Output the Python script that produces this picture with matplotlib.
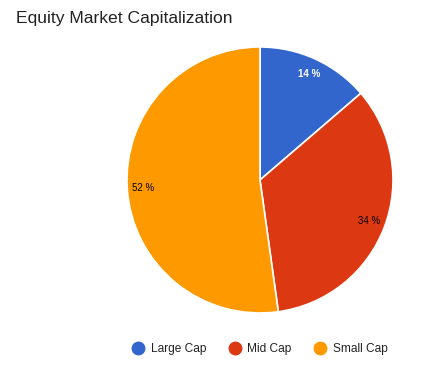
import matplotlib
matplotlib.use("Agg")
import matplotlib.pyplot as plt
from matplotlib.lines import Line2D

plt.rcParams['font.family'] = ['Liberation Sans', 'DejaVu Sans']

# data
categories = ["Large Cap", "Mid Cap", "Small Cap"]
shares = [13.7, 34.1, 52.2]
colors = ["#3366cc", "#dc3912", "#ff9900"]
label_colors = ["white", "black", "black"]

fig = plt.figure(figsize=(4.27, 3.81), dpi=100)
ax = fig.add_axes([0.2974, 0.1785, 0.6230, 0.6982])

wedges, texts, autotexts = ax.pie(
    shares, colors=colors, startangle=90, counterclock=False,
    autopct=lambda p: "%d %%" % round(p), pctdistance=0.88,
    wedgeprops=dict(edgecolor="white", linewidth=1.2),
    textprops=dict(fontsize=7))
for t, c in zip(autotexts, label_colors):
    t.set_color(c)
    if c == "white":
        t.set_fontweight("bold")
ax.set_xlim(-1, 1)
ax.set_ylim(-1, 1)
ax.set_aspect("equal")

fig.text(16 / 427, 1 - 19 / 381, "Equity Market Capitalization",
         fontsize=12.6, color="#222222", va="center", ha="left")

handles = [Line2D([], [], marker="o", linestyle="", markersize=9,
                  markerfacecolor=c, markeredgecolor=c) for c in colors]
leg = fig.legend(handles, categories, loc="center",
                 bbox_to_anchor=(260 / 427, 1 - 349 / 381), ncol=3,
                 frameon=False, fontsize=8.6, handletextpad=0.55,
                 columnspacing=1.9, handlelength=1.0)
for t in leg.get_texts():
    t.set_color("#222222")

fig.savefig("out.png", dpi=100)
